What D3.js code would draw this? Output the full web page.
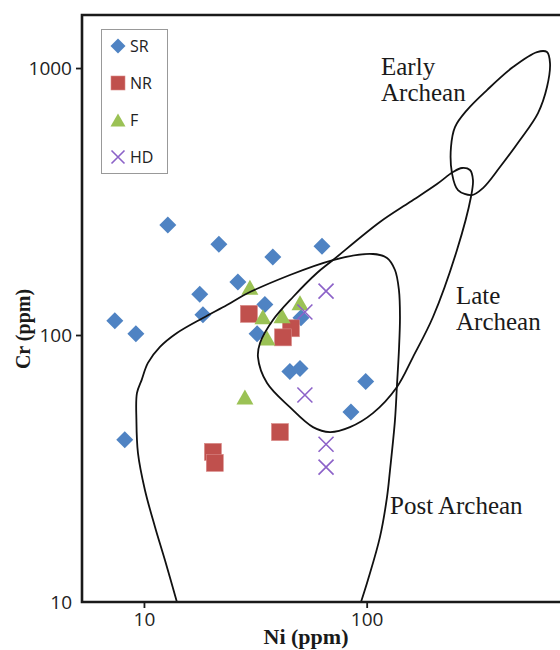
<!DOCTYPE html>
<html>
<head>
<meta charset="utf-8">
<script src="https://cdn.jsdelivr.net/npm/d3@7/dist/d3.min.js"></script>
<style>
  html, body { margin: 0; padding: 0; background: #fff; }
  svg { display: block; }
</style>
</head>
<body>
<script>
// Sample compositions, [Ni ppm, Cr ppm]
const srData = [[12.8,258],[21.7,219],[37.9,196],[63,215],[26.4,158],[17.8,142],[18.4,119],
  [7.4,113],[9.2,101],[34.9,130],[32.2,101],[50.7,116],[45.2,73],[50.2,75],[99,67],[85,51.5],[8.2,40.5]];
const nrData = [[29.6,120],[45.7,106],[42.1,98],[40.8,43.3],[20.4,36.5],[20.8,33.2]];
const fData  = [[29.9,151],[34.2,117],[41.7,118],[50.2,132],[35.7,97.4],[28.4,58.6]];
const hdData = [[65.7,146],[52.8,122],[52.8,59.6],[65.7,39],[65.7,32]];

// Field outlines, [Ni ppm, Cr ppm]
const postArchean = [[14.06,10],[12.42,14.36],[11.21,19.1],[10.1,26.28],[9.4,36.1],[9.25,48],[9.3,60.6],
  [9.76,67.8],[10.42,78.6],[11.8,90.2],[14.06,101.7],[18.4,115.8],[23.59,129.5],[29.92,144.9],
  [70.6,190.9],[106.7,201.1],[123.4,194.3],[134,175.2],[139.6,147.4],[141.1,116.8],[139.6,87.8],
  [136.8,65],[134,48],[127.3,31.2],[123.4,24.7],[114.7,17.5],[101.3,12.09],[94.3,10]];
const lateArchean = [[244.1,407.9],[267.9,422.2],[290.9,415],[300.1,380.6],[293.9,328.8],[254.4,208.2],
  [198.5,116.8],[161.4,82.7],[136.8,63.9],[106.7,51],[84.1,45.2],[68.4,43.3],[57.4,45.2],[45.2,53.7],
  [35.7,66.1],[32.5,82.7],[33.2,93.3],[37.96,113.8],[46.7,138.8],[59.8,170.7],[70.6,190.9],
  [114.7,265],[156.4,314.8],[206.9,367.8]];
const earlyArchean = [[645.1,1148],[581.9,1148],[453.9,1008.6],[346.9,827],[282.1,696],[249.2,601.2],
  [239.1,505.9],[241.5,404.4],[257,349.2],[297,334.4],[332.8,355.2],[396.8,425.8],[488,537.5],
  [587.9,678.4],[645.1,848.7],[665.5,1043.9]];

const xTicks = [10, 100];
const yTicks = [10, 100, 1000];
const seriesNames = ["SR", "NR", "F", "HD"];
const fieldLabels = [["Early", "Archean"], ["Late", "Archean"], ["Post Archean"]];

const W = 560, H = 650;
const mLeft = 82, mRight = 560, mTop = 15, mBottom = 602;

const svg = d3.select("body").append("svg").attr("width", W).attr("height", H);

const x = d3.scaleLog().domain([5.27, 738]).range([mLeft, mRight]);
const y = d3.scaleLog().domain([10, 1580]).range([mBottom, mTop]);

const colors = { SR: "#4f83c3", NR: "#c0504d", F: "#9bc255", HD: "#8c62c8" };

// marker shapes
function diamond(g, s) {
  g.append("path").attr("d", `M0,${-s}L${s},0L0,${s}L${-s},0Z`).attr("fill", colors.SR);
}
function square(g, s) {
  g.append("rect").attr("x", -s).attr("y", -s).attr("width", 2*s).attr("height", 2*s)
    .attr("fill", colors.NR).attr("stroke", "#d98a88").attr("stroke-width", 0.6);
}
function triangle(g, w, h) {
  g.append("path").attr("d", `M0,${-h/2}L${w/2},${h/2}L${-w/2},${h/2}Z`).attr("fill", colors.F);
}
function cross(g, s) {
  g.append("path").attr("d", `M${-s},${-s}L${s},${s}M${-s},${s}L${s},${-s}`)
    .attr("stroke", colors.HD).attr("stroke-width", 1.6).attr("fill", "none");
}

const plot = svg.append("g");
function drawSeries(data, fn) {
  data.forEach(d => {
    const g = plot.append("g").attr("transform", `translate(${x(d[0])},${y(d[1])})`);
    fn(g);
  });
}
drawSeries(srData, g => diamond(g, 8.5));
drawSeries(nrData, g => square(g, 8.5));
drawSeries(fData, g => triangle(g, 17, 15));
drawSeries(hdData, g => cross(g, 7.5));

// field outlines
const lineOpen = d3.line().x(d => x(d[0])).y(d => y(d[1])).curve(d3.curveCatmullRom.alpha(0.5));
const lineClosed = d3.line().x(d => x(d[0])).y(d => y(d[1])).curve(d3.curveCatmullRomClosed.alpha(0.5));
const fields = svg.append("g").attr("fill", "none").attr("stroke", "#111").attr("stroke-width", 1.8);
fields.append("path").attr("d", lineOpen(postArchean));
fields.append("path").attr("d", lineClosed(lateArchean));
fields.append("path").attr("d", lineClosed(earlyArchean));

// field labels
const labelG = svg.append("g").attr("font-family", "'Liberation Serif', 'Times New Roman', serif")
  .attr("font-size", 25).attr("fill", "#1a1a1a").attr("textLength", null);
const labelPos = [[381, 75], [456, 304], [390, 514]];
fieldLabels.forEach((lines, i) => {
  lines.forEach((t, j) => {
    labelG.append("text").attr("x", labelPos[i][0]).attr("y", labelPos[i][1] + j * 26).text(t);
  });
});

// frame
svg.append("path")
  .attr("d", `M${mRight + 5},${mTop}H${mLeft}V${mBottom}H${mRight + 5}`)
  .attr("fill", "none").attr("stroke", "#1a1a1a").attr("stroke-width", 2.6);

// axes
const fmt = d3.format("d");
const yAxis = svg.append("g").attr("transform", `translate(${mLeft},0)`)
  .call(d3.axisLeft(y).tickValues(yTicks).tickFormat(fmt).tickSize(6).tickPadding(4));
const xAxis = svg.append("g").attr("transform", `translate(0,${mBottom})`)
  .call(d3.axisBottom(x).tickValues(xTicks).tickFormat(fmt).tickSize(6).tickPadding(5));
[xAxis, yAxis].forEach(a => {
  a.select(".domain").remove();
  a.selectAll(".tick line").attr("stroke", "#1a1a1a").attr("stroke-width", 1.8);
  a.selectAll(".tick text").attr("font-family", "'Open Sans', sans-serif").attr("font-size", 19)
    .attr("fill", "#222");
});
yAxis.selectAll(".tick").filter(d => d === 10).select("line").remove();

// axis titles
svg.append("text").attr("x", 306).attr("y", 644).attr("text-anchor", "middle")
  .attr("font-family", "'Liberation Serif', serif").attr("font-weight", "bold").attr("font-size", 22)
  .attr("fill", "#1a1a1a").text("Ni (ppm)");
svg.append("text").attr("transform", "translate(30,329) rotate(-90)").attr("text-anchor", "middle")
  .attr("font-family", "'Liberation Serif', serif").attr("font-weight", "bold").attr("font-size", 20)
  .attr("fill", "#1a1a1a").text("Cr (ppm)");

// legend
const leg = svg.append("g");
leg.append("rect").attr("x", 101.5).attr("y", 29.5).attr("width", 66).attr("height", 144)
  .attr("fill", "#fff").attr("stroke", "#999").attr("stroke-width", 1);
const legMarkers = [g => diamond(g, 7.5), g => square(g, 7), g => triangle(g, 15, 13), g => cross(g, 6.5)];
seriesNames.forEach((name, i) => {
  const cy = 46 + i * 37;
  const g = leg.append("g").attr("transform", `translate(118,${cy})`);
  legMarkers[i](g);
  leg.append("text").attr("x", 130).attr("y", cy).attr("dy", "0.36em")
    .attr("font-family", "'Open Sans', sans-serif").attr("font-size", 16).attr("fill", "#222").text(name);
});
</script>
</body>
</html>
